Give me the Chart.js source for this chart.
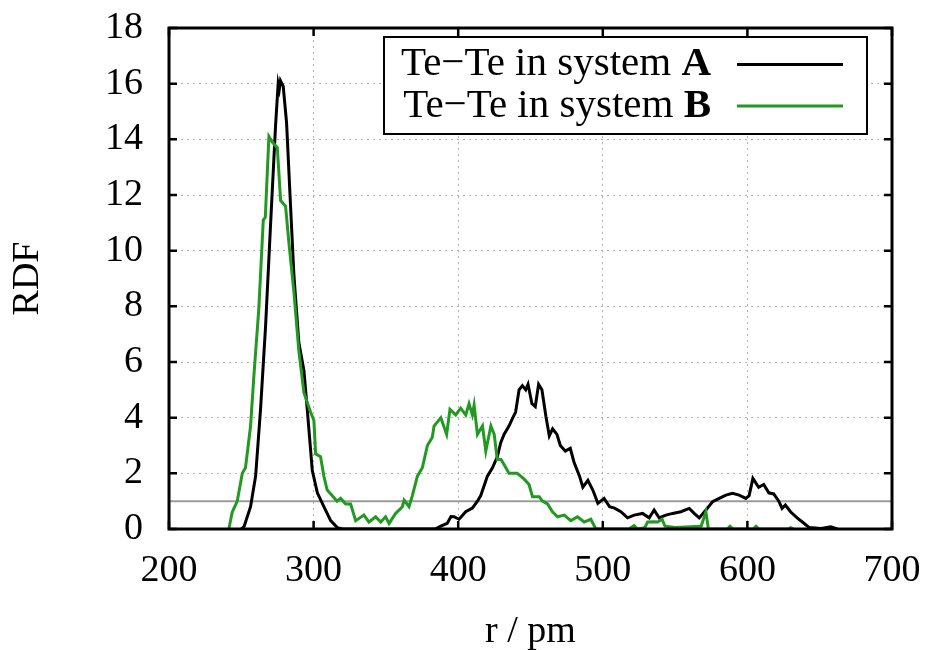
<!DOCTYPE html>
<html>
<head>
<meta charset="utf-8">
<script src="https://cdn.jsdelivr.net/npm/chart.js@4.4.0/dist/chart.umd.min.js"></script>
<style>
  html, body { margin: 0; padding: 0; background: #fff; }
  #wrap { width: 928px; height: 650px; }
</style>
</head>
<body>
<div id="wrap"><canvas id="rdfChart"></canvas></div>
<script>
// r / pm and RDF values
const rA = [250, 252, 256.4, 259.9, 263.3, 266.8, 270.2, 273.7, 275.5, 276.3, 277.1, 279.0, 281.3, 283.6, 286.4, 289.8, 293.3, 295.6, 299.1, 302.6, 307.1, 311.8, 316.4, 320,
  384, 388, 392.4, 395, 397.1, 400.6, 405.2, 409.8, 413.3, 415.6, 420.2, 423.7, 427.1, 429.4, 431.7, 435.1, 437.4, 439.7, 442.1, 444.4, 446.7, 448.3, 451.0, 453.3, 455.6, 457.9,
  460.7, 463, 465.3, 468.3, 470.6, 474.1, 477.5, 480.1, 483.9, 486.2, 489.7, 493.1, 496.6, 500.9, 504.7, 508.1, 512.5, 517.1, 521.7, 527.5, 532.1, 535.5, 539, 543.6, 548.3,
  554, 559.8, 563.2, 566.7, 571.3, 575.9, 580.5, 585.1, 589.7, 594.3, 598.9, 601.2, 603.8, 607.8, 611.3, 614.8, 618.2, 621.7, 624, 626.3, 629.8, 634.4, 637.8, 642.8, 651, 657.6, 662.3];
const rdfA = [0, 0.1, 0.8, 1.9, 4.3, 7.3, 10.9, 14.5, 16.0, 15.8, 16.1, 15.9, 14.6, 12.1, 9.1, 6.7, 5.7, 4.3, 2.1, 1.3, 0.8, 0.3, 0.05, 0,
  0, 0.1, 0.2, 0.45, 0.44, 0.35, 0.62, 0.75, 1.0, 1.2, 1.9, 2.2, 2.6, 3.1, 3.4, 3.7, 3.96, 4.2, 5.0, 5.15, 5.0, 5.2, 4.5, 4.4, 5.2, 5.0,
  4.03, 3.35, 3.6, 3.4, 3.0, 2.8, 2.9, 2.4, 1.9, 1.5, 1.75, 1.4, 0.92, 1.1, 0.8, 0.75, 0.62, 0.4, 0.5, 0.56, 0.4, 0.68, 0.4, 0.5, 0.56,
  0.62, 0.74, 0.56, 0.4, 0.68, 0.98, 1.1, 1.22, 1.28, 1.22, 1.1, 1.2, 1.82, 1.5, 1.6, 1.3, 1.26, 1.0, 0.74, 0.86, 0.62, 0.4, 0.26, 0.05, 0.02, 0.08, 0];

const rB = [241.4, 243.7, 247.2, 250.7, 252.9, 256.4, 258.7, 262.1, 265.2, 266.6, 269.1, 271.4, 274.9, 277.2, 280.6, 282.9, 286.4, 289.8, 293.3, 297.9, 300.2, 301.4, 304.8,
  307.1, 309.4, 312.8, 316.2, 318.7, 322.2, 325.6, 329.1, 334.8, 338.3, 342.9, 346.4, 349.8, 352.2, 356.7, 361.4, 362.6, 366.0, 368.3, 371.8, 375.2, 378.7, 382.1, 383.3,
  388, 392, 394.3, 398.3, 401.7, 405.2, 407.5, 409.8, 411, 413.3, 416.8, 419.1, 422.6, 424.9, 427, 429.6, 431.9, 435.1, 440.8, 445.5, 449, 451.4, 456, 458.3, 461.8,
  465.2, 468.7, 473.3, 477.9, 482.5, 487.1, 491.7, 495.2, 518, 521.6, 524, 529, 531, 535, 538, 541, 543, 550, 568, 571.3, 573, 586, 588, 590, 604, 606, 608, 628, 630, 632];
const rdfB = [0, 0.6, 1.0, 2.0, 2.2, 3.7, 5.5, 7.9, 11.1, 11.2, 14.1, 13.9, 13.7, 11.8, 11.6, 10.3, 8.5, 6.4, 4.9, 4.2, 3.9, 2.7, 2.6,
  1.9, 1.4, 1.2, 1.0, 1.1, 0.9, 0.9, 0.3, 0.5, 0.25, 0.44, 0.25, 0.44, 0.2, 0.56, 0.8, 1.04, 0.8, 1.2, 1.9, 2.2, 3.0, 3.3, 3.7,
  4.0, 3.4, 4.3, 4.1, 4.34, 4.1, 4.5, 4.1, 4.45, 3.4, 3.7, 2.8, 3.7, 3.4, 2.5, 2.5, 2.3, 2.0, 2.0, 1.8, 1.6, 1.16, 1.16, 1.0, 0.9,
  0.62, 0.44, 0.5, 0.3, 0.44, 0.25, 0.35, 0, 0, 0.12, 0, 0.05, 0.25, 0.26, 0.25, 0.35, 0.1, 0.05, 0.1, 0.62, 0, 0, 0.1, 0, 0, 0.1, 0, 0, 0.05, 0];

const seriesLabels = ['Te\u2212Te in system ', 'Te\u2212Te in system '];
const seriesTags = ['A', 'B'];
const seriesColors = ['#000000', '#229a22'];
const refLevel = 1;
const xMin = 200, xMax = 700, xStep = 100;
const yMin = 0, yMax = 18, yStep = 2;

const serif = '"Liberation Serif", "DejaVu Serif", serif';

function toPoints(xs, ys) {
  return xs.map((x, i) => ({ x: x, y: ys[i] }));
}

// frame with inward ticks on all four sides
const framePlugin = {
  id: 'frame',
  afterDatasetsDraw(chart) {
    const { ctx, chartArea: a, scales } = chart;
    ctx.save();
    ctx.strokeStyle = '#000';
    ctx.lineWidth = 2.5;
    const tl = 8;
    ctx.beginPath();
    scales.x.ticks.forEach(t => {
      const px = scales.x.getPixelForValue(t.value);
      ctx.moveTo(px, a.bottom); ctx.lineTo(px, a.bottom - tl);
      ctx.moveTo(px, a.top); ctx.lineTo(px, a.top + tl);
    });
    scales.y.ticks.forEach(t => {
      const py = scales.y.getPixelForValue(t.value);
      ctx.moveTo(a.left, py); ctx.lineTo(a.left + tl, py);
      ctx.moveTo(a.right, py); ctx.lineTo(a.right - tl, py);
    });
    ctx.stroke();
    ctx.lineWidth = 3;
    ctx.strokeRect(a.left, a.top, a.right - a.left, a.bottom - a.top);
    ctx.restore();
  }
};

// gnuplot style key: text right aligned, sample line to the right
const keyPlugin = {
  id: 'key',
  afterDraw(chart) {
    const { ctx, chartArea: a } = chart;
    const right = a.right - 25, top = a.top + 9;
    const w = 483, h = 97;
    const left = right - w;
    ctx.save();
    ctx.fillStyle = '#fff';
    ctx.fillRect(left, top, w, h);
    ctx.strokeStyle = '#000';
    ctx.lineWidth = 2;
    ctx.strokeRect(left, top, w, h);
    const textRight = left + 327;
    const rows = [27.5, 69];
    chart.data.datasets.slice(0, 2).forEach((ds, i) => {
      const y = top + rows[i];
      ctx.textBaseline = 'middle';
      ctx.font = 'bold 41px ' + serif;
      const tag = seriesTags[i];
      const tagW = ctx.measureText(tag).width;
      ctx.fillStyle = '#000';
      ctx.textAlign = 'right';
      ctx.fillText(tag, textRight, y);
      ctx.font = '41px ' + serif;
      ctx.fillText(seriesLabels[i], textRight - tagW, y);
      ctx.strokeStyle = ds.borderColor;
      ctx.lineWidth = 3;
      ctx.beginPath();
      ctx.moveTo(left + 353, y);
      ctx.lineTo(left + 459, y);
      ctx.stroke();
    });
    ctx.restore();
  }
};

new Chart(document.getElementById('rdfChart'), {
  type: 'scatter',
  data: {
    datasets: [
      {
        label: seriesLabels[0] + seriesTags[0],
        data: toPoints(rA, rdfA),
        showLine: true,
        borderColor: seriesColors[0],
        borderWidth: 3,
        pointRadius: 0,
        tension: 0,
        order: 2
      },
      {
        label: seriesLabels[1] + seriesTags[1],
        data: toPoints(rB, rdfB),
        showLine: true,
        borderColor: seriesColors[1],
        borderWidth: 3,
        pointRadius: 0,
        tension: 0,
        order: 1
      },
      {
        label: 'reference',
        data: [{ x: xMin, y: refLevel }, { x: xMax, y: refLevel }],
        showLine: true,
        borderColor: '#9a9a9a',
        borderWidth: 2,
        pointRadius: 0,
        order: 3
      }
    ]
  },
  options: {
    responsive: true,
    maintainAspectRatio: false,
    animation: false,
    layout: { padding: { top: 28, right: 36, left: 0, bottom: 0 } },
    plugins: {
      legend: { display: false },
      tooltip: { enabled: false }
    },
    scales: {
      x: {
        type: 'linear',
        min: xMin,
        max: xMax,
        afterFit: s => { s.height = 121; s.paddingLeft = 0; s.paddingRight = 0; },
        ticks: { stepSize: xStep, color: '#000', padding: 19, font: { family: serif, size: 38 } },
        grid: { color: '#b4b4b4', lineWidth: 1, drawTicks: false },
        border: { display: false, dash: [2, 4] },
        title: { display: true, text: 'r / pm', color: '#000', font: { family: serif, size: 38 }, padding: { top: 0, bottom: -5 } }
      },
      y: {
        type: 'linear',
        min: yMin,
        max: yMax,
        afterFit: s => { s.width = 169; s.paddingTop = 0; s.paddingBottom = 0; },
        ticks: { stepSize: yStep, color: '#000', padding: 26, font: { family: serif, size: 38 } },
        grid: { color: '#b4b4b4', lineWidth: 1, drawTicks: false },
        border: { display: false, dash: [2, 4] },
        title: { display: true, text: 'RDF', color: '#000', font: { family: serif, size: 38 }, padding: { top: 5, bottom: 0 } }
      }
    }
  },
  plugins: [framePlugin, keyPlugin]
});
</script>
</body>
</html>
